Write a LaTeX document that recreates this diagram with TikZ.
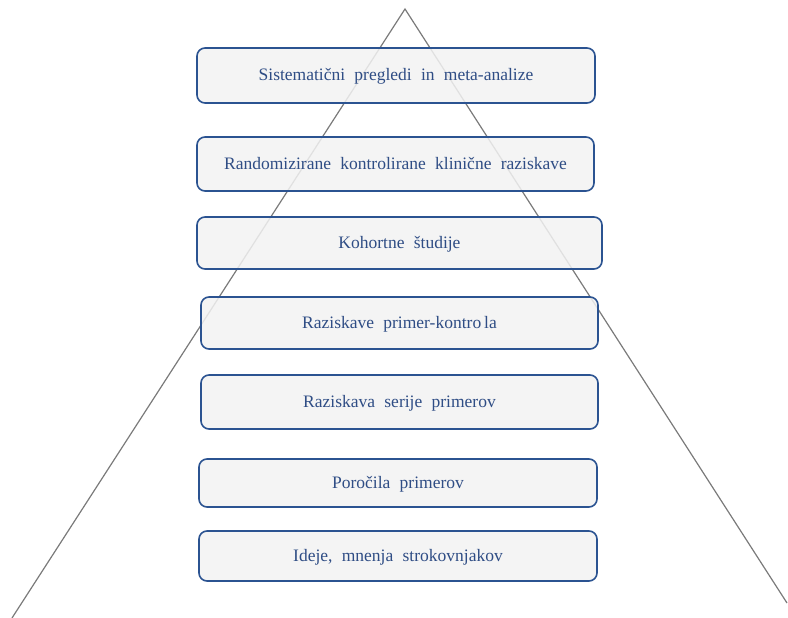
\documentclass[tikz,border=0pt]{standalone}
\usepackage{fontspec}
\setmainfont{Liberation Serif}
\definecolor{boxborder}{HTML}{2B5391}
\definecolor{boxfill}{HTML}{F2F2F2}
\definecolor{boxtext}{HTML}{2F4D85}
\definecolor{pyline}{HTML}{7A7A7A}
\newcommand{\wsp}{\hspace{0.53em}}
\begin{document}
\begin{tikzpicture}[x=1pt,y=-1pt,
  level/.style={draw=boxborder,line width=1.6pt,fill=boxfill,fill opacity=0.85,text opacity=1,
    rounded corners=8pt,text=boxtext,font=\fontsize{17.5}{19}\selectfont,inner sep=0pt,
    text height=11pt,text depth=1pt},
  edge/.style={draw=pyline,line width=1.2pt}]
\useasboundingbox (0,0) rectangle (788,618);
\coordinate (apex) at (405,9);
\coordinate (bl) at (12,618);
\coordinate (br) at (787,603);
\draw[edge] (bl) -- (apex) -- (br);
\node[level,minimum width=398pt,minimum height=55pt] (l1) at (396,75.5) {Sistematični\wsp pregledi\wsp in\wsp meta-analize};
\node[level,minimum width=397pt,minimum height=54pt] (l2) at (395.5,164) {Randomizirane\wsp kontrolirane\wsp klinične\wsp raziskave};
\node[level,minimum width=405pt,minimum height=52pt] (l3) at (399.5,243) {Kohortne\wsp študije};
\node[level,minimum width=397pt,minimum height=52pt] (l4) at (399.5,323) {Raziskave\wsp primer-kontro\,la};
\node[level,minimum width=397pt,minimum height=54pt] (l5) at (399.5,402) {Raziskava\wsp serije\wsp primerov};
\node[level,minimum width=398pt,minimum height=48pt] (l6) at (398,483) {Poročila\wsp primerov};
\node[level,minimum width=398pt,minimum height=50pt] (l7) at (398,556) {Ideje,\wsp mnenja\wsp strokovnjakov};
\end{tikzpicture}
\end{document}
